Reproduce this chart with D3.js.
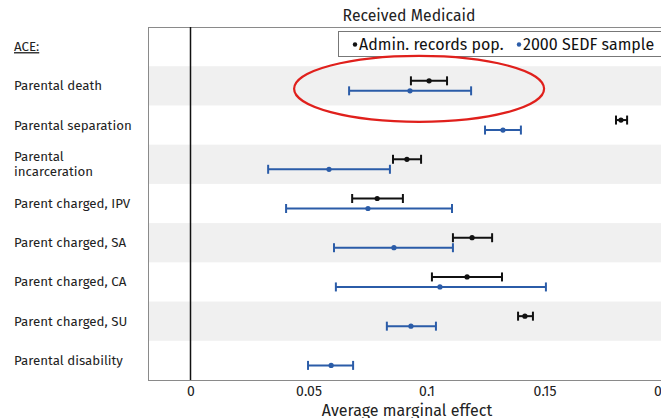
<!DOCTYPE html>
<html>
<head>
<meta charset="utf-8">
<script src="https://cdn.jsdelivr.net/npm/d3@7"></script>
<style>
  html, body { margin: 0; padding: 0; background: #fff; }
  svg { display: block; font-family: "Fira Sans", "Noto Sans", "Open Sans", sans-serif; }
</style>
</head>
<body>
<svg id="chart" width="661" height="418"></svg>
<script>
// ACE categories (top row is the header label)
const categories = [
  "ACE:",
  "Parental death",
  "Parental separation",
  "Parental\nincarceration",
  "Parent charged, IPV",
  "Parent charged, SA",
  "Parent charged, CA",
  "Parent charged, SU",
  "Parental disability"
];

// Admin. records population: estimate, lower CI, upper CI (null = not shown)
const adminEst   = [null, 0.1011, 0.1824, 0.0917, 0.0791, 0.1193, 0.1172, 0.1417, null];
const adminLow   = [null, 0.0934, 0.1803, 0.0858, 0.0685, 0.1112, 0.1023, 0.1388, null];
const adminHigh  = [null, 0.1087, 0.1850, 0.0977, 0.0900, 0.1278, 0.1320, 0.1451, null];

// 2000 SEDF sample: estimate, lower CI, upper CI
const sedfEst    = [null, 0.0930, 0.1324, 0.0587, 0.0752, 0.0862, 0.1057, 0.0934, 0.0596];
const sedfLow    = [null, 0.0672, 0.1248, 0.0329, 0.0405, 0.0608, 0.0616, 0.0832, 0.0498];
const sedfHigh   = [null, 0.1189, 0.1400, 0.0845, 0.1108, 0.1112, 0.1506, 0.1040, 0.0689];

const xTicks = [0, 0.05, 0.1, 0.15, 0.2];
const xTickLabels = ["0", "0.05", "0.1", "0.15", "0.2"];

const title = "Received Medicaid";
const xTitle = "Average marginal effect";
const legendItems = [
  { name: "Admin. records pop.", color: "#111111" },
  { name: "2000 SEDF sample", color: "#2b5ca8" }
];

const FONT = "\"Fira Sans\", \"Noto Sans\", \"Open Sans\", sans-serif";
const svg = d3.select("#chart");
const plot = { left: 148, top: 27, right: 700, bottom: 380 };

const x = d3.scaleLinear().domain([0, 0.2]).range([190.5, 662.5]);
const y = d3.scaleBand().domain(categories).range([plot.top, plot.bottom]).padding(0);

// Alternating row bands
svg.append("g").selectAll("rect")
  .data(categories.filter((d, i) => i % 2 === 1))
  .join("rect")
  .attr("x", plot.left)
  .attr("y", d => y(d))
  .attr("width", plot.right - plot.left)
  .attr("height", y.bandwidth())
  .attr("fill", "#f0f0f0");

// Plot frame
svg.append("rect")
  .attr("x", plot.left + 0.5).attr("y", plot.top + 0.5)
  .attr("width", plot.right - plot.left).attr("height", plot.bottom - plot.top)
  .attr("fill", "none").attr("stroke", "#8a8a8a").attr("stroke-width", 1);

// Zero reference line
svg.append("line")
  .attr("x1", x(0)).attr("x2", x(0))
  .attr("y1", plot.top).attr("y2", plot.bottom)
  .attr("stroke", "#111").attr("stroke-width", 1.5);

// X axis
const xAxis = d3.axisBottom(x)
  .tickValues(xTicks)
  .tickSize(0)
  .tickPadding(6)
  .tickFormat((d, i) => xTickLabels[i]);
const gx = svg.append("g").attr("transform", `translate(0,${plot.bottom + 0.5})`).call(xAxis);
gx.select(".domain").remove();
gx.selectAll("text").attr("font-size", 14).attr("fill", "#222")
  .style("font-family", FONT);

svg.append("text")
  .attr("x", 407).attr("y", 416)
  .attr("text-anchor", "middle").attr("font-size", 16).attr("fill", "#222")
  .text(xTitle);

// Title
svg.append("text")
  .attr("x", 409).attr("y", 21)
  .attr("text-anchor", "middle").attr("font-size", 15.8).attr("fill", "#222")
  .text(title);

// Category labels
const lab = svg.append("g").selectAll("text")
  .data(categories)
  .join("text")
  .attr("x", 14)
  .attr("y", d => y(d) + y.bandwidth() / 2)
  .attr("font-size", 13.3)
  .attr("fill", "#222")
  .attr("text-decoration", (d, i) => i === 0 ? "underline" : null);
lab.each(function(d) {
  const lines = d.split("\n");
  const t = d3.select(this);
  lines.forEach((ln, k) => {
    t.append("tspan")
      .attr("x", 14)
      .attr("dy", k === 0 ? (4.5 - (lines.length - 1) * 7.5) : 15)
      .text(ln);
  });
});

// Error bars
function drawSeries(est, low, high, color, offset) {
  const rows = categories.map((c, i) => ({ c, e: est[i], lo: low[i], hi: high[i] }))
    .filter(d => d.e !== null);
  const g = svg.append("g");
  const cy = d => y(d.c) + y.bandwidth() / 2 + offset;
  g.selectAll("line.bar").data(rows).join("line")
    .attr("x1", d => x(d.lo)).attr("x2", d => x(d.hi))
    .attr("y1", cy).attr("y2", cy)
    .attr("stroke", color).attr("stroke-width", 2);
  g.selectAll("line.capl").data(rows).join("line")
    .attr("x1", d => x(d.lo)).attr("x2", d => x(d.lo))
    .attr("y1", d => cy(d) - 4.5).attr("y2", d => cy(d) + 4.5)
    .attr("stroke", color).attr("stroke-width", 2);
  g.selectAll("line.capr").data(rows).join("line")
    .attr("x1", d => x(d.hi)).attr("x2", d => x(d.hi))
    .attr("y1", d => cy(d) - 4.5).attr("y2", d => cy(d) + 4.5)
    .attr("stroke", color).attr("stroke-width", 2);
  g.selectAll("circle").data(rows).join("circle")
    .attr("cx", d => x(d.e)).attr("cy", cy).attr("r", 2.6)
    .attr("fill", color);
}
drawSeries(adminEst, adminLow, adminHigh, legendItems[0].color, -5);
drawSeries(sedfEst, sedfLow, sedfHigh, legendItems[1].color, 5);

// Legend
const lg = svg.append("g");
lg.append("rect")
  .attr("x", 338.5).attr("y", 31.5).attr("width", 340).attr("height", 25)
  .attr("fill", "#fff").attr("stroke", "#777");
const legendX = [355, 519];
legendItems.forEach((it, i) => {
  lg.append("circle").attr("cx", legendX[i]).attr("cy", 44.5).attr("r", 2.2).attr("fill", it.color);
  lg.append("text")
    .attr("x", legendX[i] + 4).attr("y", 50)
    .attr("font-size", 16).attr("fill", "#111")
    .text(it.name);
});

// Highlight ellipse around the parental death row
svg.append("ellipse")
  .attr("cx", (x(sedfLow[1]) + x(sedfHigh[1])) / 2 + 9)
  .attr("cy", y(categories[1]) + y.bandwidth() / 2 + 3)
  .attr("rx", 125).attr("ry", 33)
  .attr("fill", "none").attr("stroke", "#e0201c").attr("stroke-width", 2.2);
</script>
</body>
</html>
